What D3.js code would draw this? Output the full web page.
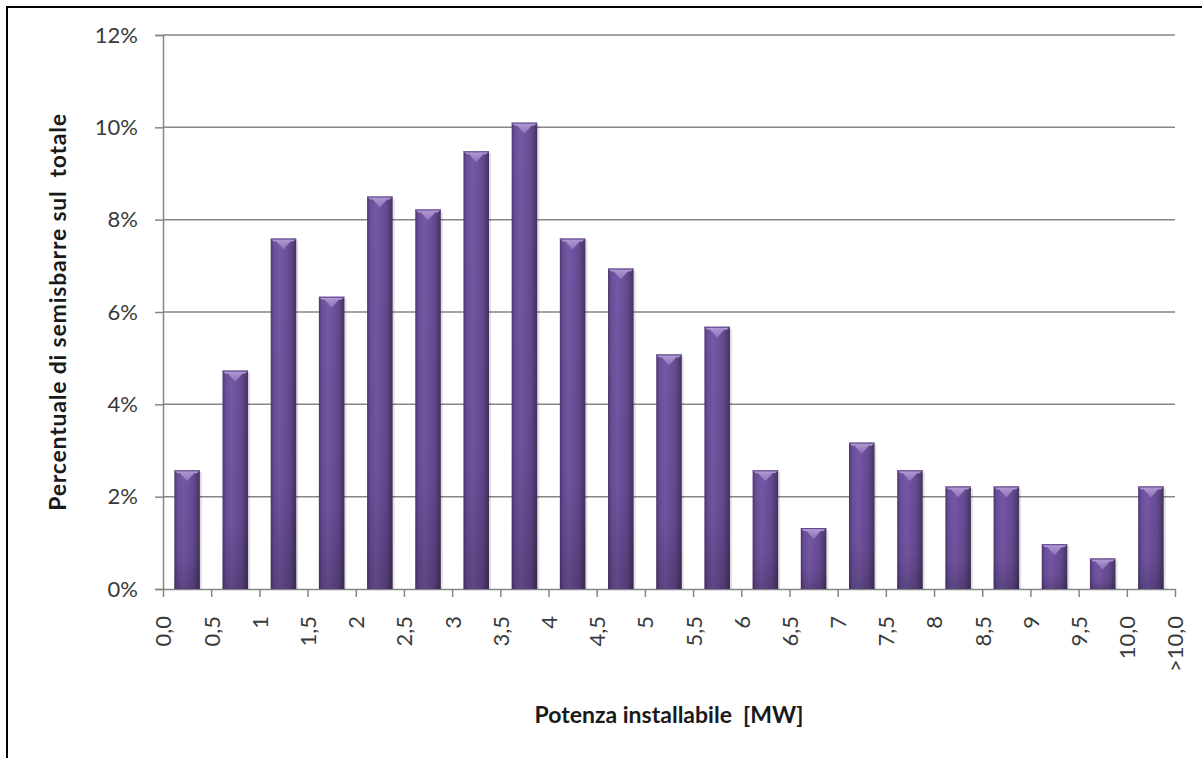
<!DOCTYPE html>
<html>
<head>
<meta charset="utf-8">
<script src="https://cdn.jsdelivr.net/npm/d3@7"></script>
<style>
  body { margin: 0; background: #fff; }
  svg { display: block; }
</style>
</head>
<body>
<div id="chart"></div>
<script>
// bins of installable power (one bar each) and the boundary labels under the axis
var categories = ["0-0,5", "0,5-1", "1-1,5", "1,5-2", "2-2,5", "2,5-3", "3-3,5", "3,5-4",
                  "4-4,5", "4,5-5", "5-5,5", "5,5-6", "6-6,5", "6,5-7", "7-7,5", "7,5-8",
                  "8-8,5", "8,5-9", "9-9,5", "9,5-10", ">10"];
var values = [2.57, 4.73, 7.59, 6.33, 8.50, 8.22, 9.48, 10.10, 7.59, 6.94, 5.08,
              5.68, 2.57, 1.32, 3.17, 2.57, 2.22, 2.22, 0.97, 0.66, 2.22];
var tickLabels = ["0,0", "0,5", "1", "1,5", "2", "2,5", "3", "3,5", "4", "4,5", "5", "5,5",
                  "6", "6,5", "7", "7,5", "8", "8,5", "9", "9,5", "10,0", ">10,0"];
var yTicks = [0, 2, 4, 6, 8, 10, 12];

var W = 1202, H = 758;
var margin = {top: 35, right: 27, bottom: 169, left: 163};
var width = W - margin.left - margin.right,
    height = H - margin.top - margin.bottom;

var svg = d3.select("#chart").append("svg")
    .attr("width", W)
    .attr("height", H);

// outer frame (only top and left edges show)
svg.append("rect")
    .attr("x", 7).attr("y", 7)
    .attr("width", 1400).attr("height", 1000)
    .attr("fill", "none")
    .attr("stroke", "#000")
    .attr("stroke-width", 2);

var defs = svg.append("defs");
var grad = defs.append("linearGradient").attr("id", "barGrad")
    .attr("x1", 0).attr("x2", 1).attr("y1", 0).attr("y2", 0);
grad.append("stop").attr("offset", "0%").attr("stop-color", "#4d3670");
grad.append("stop").attr("offset", "12%").attr("stop-color", "#6a4e99");
grad.append("stop").attr("offset", "35%").attr("stop-color", "#7558a6");
grad.append("stop").attr("offset", "75%").attr("stop-color", "#654a92");
grad.append("stop").attr("offset", "100%").attr("stop-color", "#47315f");

var shade = defs.append("linearGradient").attr("id", "barShade")
    .attr("x1", 0).attr("x2", 0).attr("y1", 0).attr("y2", 1);
shade.append("stop").attr("offset", "0%").attr("stop-color", "#000").attr("stop-opacity", 0);
shade.append("stop").attr("offset", "70%").attr("stop-color", "#000").attr("stop-opacity", 0.05);
shade.append("stop").attr("offset", "100%").attr("stop-color", "#000").attr("stop-opacity", 0.2);

var bevel = defs.append("linearGradient").attr("id", "bevelGrad")
    .attr("x1", 0).attr("x2", 0).attr("y1", 0).attr("y2", 1);
bevel.append("stop").attr("offset", "0%").attr("stop-color", "#b7a2d8");
bevel.append("stop").attr("offset", "100%").attr("stop-color", "#8e72bb");

var g = svg.append("g")
    .attr("transform", "translate(" + margin.left + "," + margin.top + ")");

var y = d3.scaleLinear()
    .domain([0, 12])
    .range([height, 0]);

var x = d3.scaleBand()
    .domain(categories)
    .range([0, width])
    .paddingInner(0.47)
    .paddingOuter(0.235);

var xb = d3.scalePoint()
    .domain(tickLabels)
    .range([0, width]);

// gridlines + y axis
var yAxis = g.append("g")
    .call(d3.axisLeft(y).tickValues(yTicks).tickSize(8).tickFormat(function(d) { return d + "%"; }));
yAxis.select(".domain").attr("stroke", "#868686").attr("stroke-width", 1.5);
yAxis.selectAll(".tick line").attr("stroke", "#868686").attr("stroke-width", 1.5);
yAxis.selectAll(".tick text")
    .attr("x", -25)
    .style("font-family", "Lato, 'Open Sans', sans-serif")
    .style("font-size", "22px")
    .attr("fill", "#3a3a3a");

g.append("g")
    .selectAll("line")
    .data(yTicks.filter(function(d) { return d > 0; }))
    .enter()
    .append("line")
    .attr("x1", 0)
    .attr("x2", width)
    .attr("y1", function(d) { return y(d); })
    .attr("y2", function(d) { return y(d); })
    .attr("stroke", "#868686")
    .attr("stroke-width", 1.5);

// x axis with ticks at the bin boundaries
var xAxis = g.append("g")
    .attr("transform", "translate(0," + height + ")")
    .call(d3.axisBottom(xb).tickSize(8).tickSizeOuter(0));
xAxis.select(".domain").attr("stroke", "#868686").attr("stroke-width", 1.5);
xAxis.selectAll(".tick line").attr("stroke", "#868686").attr("stroke-width", 1.5);
xAxis.selectAll(".tick text")
    .attr("transform", "rotate(-90)")
    .attr("x", -27)
    .attr("y", 0)
    .attr("dy", "0.36em")
    .style("text-anchor", "end")
    .style("font-family", "Lato, 'Open Sans', sans-serif")
    .style("font-size", "22px")
    .attr("fill", "#3a3a3a");

// bars
var bars = g.selectAll(".bar")
    .data(values)
    .enter()
    .append("g")
    .attr("class", "bar");

bars.append("rect")
    .attr("x", function(d, i) { return x(categories[i]) + 2; })
    .attr("y", function(d) { return y(d) + 2; })
    .attr("width", x.bandwidth())
    .attr("height", function(d) { return height - y(d) - 2; })
    .attr("fill", "#000")
    .attr("opacity", 0.12);

bars.append("rect")
    .attr("x", function(d, i) { return x(categories[i]); })
    .attr("y", function(d) { return y(d); })
    .attr("width", x.bandwidth())
    .attr("height", function(d) { return height - y(d); })
    .attr("fill", "url(#barGrad)");

bars.append("rect")
    .attr("x", function(d, i) { return x(categories[i]); })
    .attr("y", function(d) { return y(d); })
    .attr("width", x.bandwidth())
    .attr("height", function(d) { return height - y(d); })
    .attr("fill", "url(#barShade)");

// bevel on the top of each bar
bars.append("path")
    .attr("d", function(d, i) {
        var x0 = x(categories[i]), x1 = x0 + x.bandwidth(), t = y(d);
        var c = (x0 + x1) / 2;
        return "M" + x0 + "," + t + "L" + x1 + "," + t + "L" + (x1 - 3) + "," + (t + 3) +
               "L" + (c + 7) + "," + (t + 3) + "L" + c + "," + (t + 11) +
               "L" + (c - 7) + "," + (t + 3) + "L" + (x0 + 3) + "," + (t + 3) + "Z";
    })
    .attr("fill", "url(#bevelGrad)")
    .attr("opacity", 0.95);

bars.append("line")
    .attr("x1", function(d, i) { return x(categories[i]); })
    .attr("x2", function(d, i) { return x(categories[i]) + x.bandwidth(); })
    .attr("y1", function(d) { return y(d) + 0.5; })
    .attr("y2", function(d) { return y(d) + 0.5; })
    .attr("stroke", "#5e4488")
    .attr("stroke-width", 1);

// axis titles
svg.append("text")
    .attr("x", margin.left + width / 2)
    .attr("y", 723)
    .attr("text-anchor", "middle")
    .style("font-family", "Lato, 'Open Sans', sans-serif")
    .style("font-size", "23px")
    .style("font-weight", "bold")
    .attr("fill", "#1a1a1a")
    .attr("xml:space", "preserve")
    .text("Potenza installabile  [MW]");

svg.append("text")
    .attr("transform", "translate(66," + (margin.top + height / 2) + ") rotate(-90)")
    .attr("text-anchor", "middle")
    .style("font-family", "Lato, 'Open Sans', sans-serif")
    .style("font-size", "23px")
    .style("font-weight", "bold")
    .style("letter-spacing", "0.8px")
    .attr("fill", "#1a1a1a")
    .attr("xml:space", "preserve")
    .text("Percentuale di semisbarre sul  totale");
</script>
</body>
</html>
